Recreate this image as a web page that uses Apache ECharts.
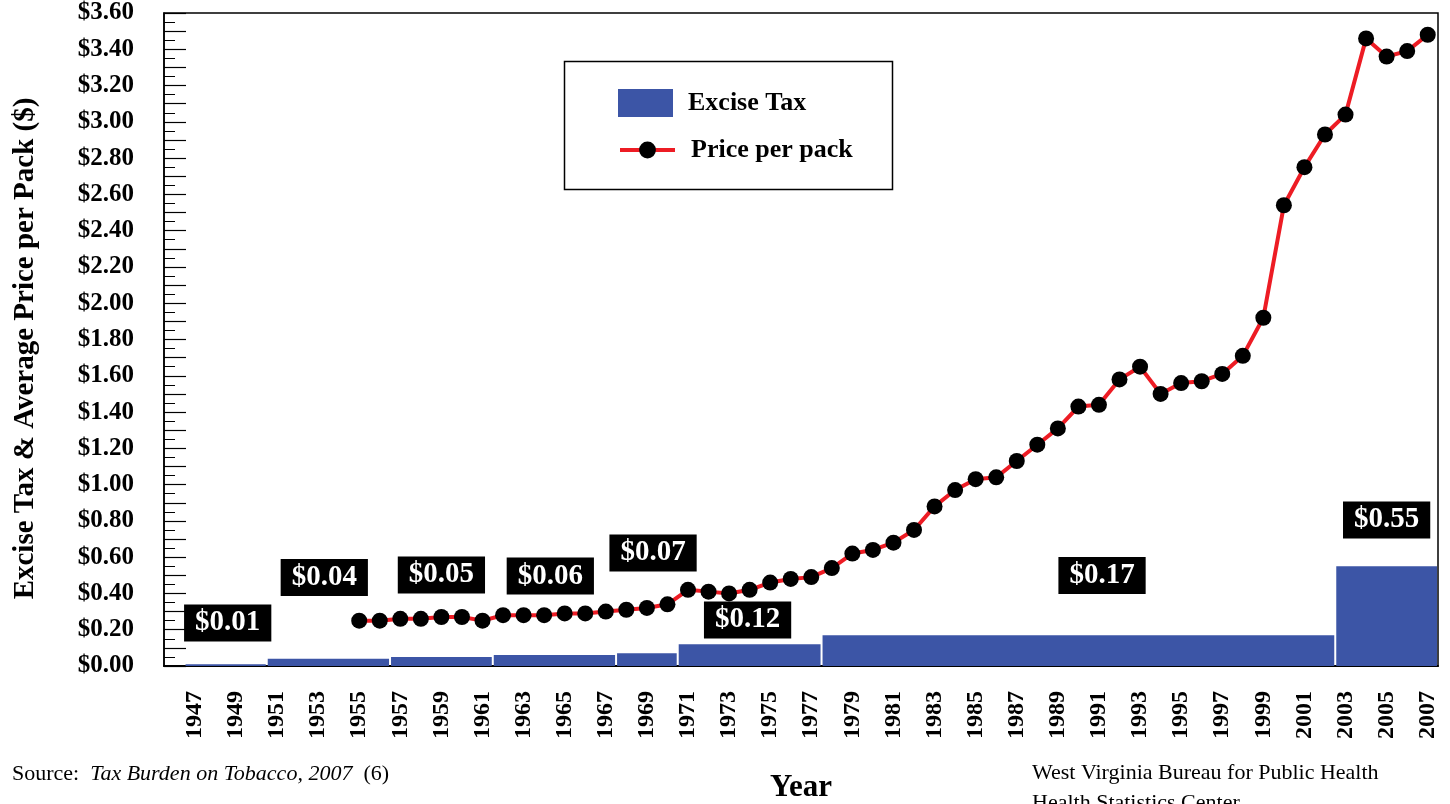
<!DOCTYPE html>
<html>
<head>
<meta charset="utf-8">
<script src="https://cdn.jsdelivr.net/npm/echarts@6/dist/echarts.min.js"></script>
<style>
  html, body { margin: 0; padding: 0; background: #fff; }
  #chart { width: 1450px; height: 804px; }
</style>
</head>
<body>
<div id="chart"></div>
<script>
// Federal excise tax per pack and the years each rate was in force
const taxFrom = [1947, 1951, 1957, 1962, 1968, 1971, 1978, 2003];
const taxTo   = [1950, 1956, 1961, 1967, 1970, 1977, 2002, 2007];
const taxRate = [0.01, 0.04, 0.05, 0.06, 0.07, 0.12, 0.17, 0.55];

// Average retail price per pack ($)
const priceYears = [
  1955, 1956, 1957, 1958, 1959, 1960, 1961, 1962, 1963, 1964,
  1965, 1966, 1967, 1968, 1969, 1970, 1971, 1972, 1973, 1974,
  1975, 1976, 1977, 1978, 1979, 1980, 1981, 1982, 1983, 1984,
  1985, 1986, 1987, 1988, 1989, 1990, 1991, 1992, 1993, 1994,
  1995, 1996, 1997, 1998, 1999, 2000, 2001, 2002, 2003, 2004,
  2005, 2006, 2007
];
const pricePerPack = [
  0.25, 0.25, 0.26, 0.26, 0.27, 0.27, 0.25, 0.28, 0.28, 0.28,
  0.29, 0.29, 0.30, 0.31, 0.32, 0.34, 0.42, 0.41, 0.40, 0.42,
  0.46, 0.48, 0.49, 0.54, 0.62, 0.64, 0.68, 0.75, 0.88, 0.97,
  1.03, 1.04, 1.13, 1.22, 1.31, 1.43, 1.44, 1.58, 1.65, 1.50,
  1.56, 1.57, 1.61, 1.71, 1.92, 2.54, 2.75, 2.93, 3.04, 3.46,
  3.36, 3.39, 3.48
];

// Year labels along the x axis
const yearTicks = [
  1947, 1949, 1951, 1953, 1955, 1957, 1959, 1961, 1963, 1965,
  1967, 1969, 1971, 1973, 1975, 1977, 1979, 1981, 1983, 1985,
  1987, 1989, 1991, 1993, 1995, 1997, 1999, 2001, 2003, 2005, 2007
];

// Where each tax-rate tag sits, in axis units [year, dollars]
const tagSpots = [
  [1948.6, 0.237], [1953.3, 0.488], [1959.0, 0.502], [1964.3, 0.496],
  [1969.3, 0.623], [1973.9, 0.254], [1991.15, 0.499], [2005.0, 0.805]
];

const SERIF = '"Liberation Serif", "Times New Roman", serif';
const BAR_BLUE = '#3c55a6';
const LINE_RED = '#ed1c24';

const chart = echarts.init(document.getElementById('chart'), null, { renderer: 'canvas' });

const taxData = taxRate.map((v, i) => [taxFrom[i], taxTo[i], v]);
const priceData = pricePerPack.map((v, i) => [priceYears[i], v]);

function renderTaxBlock(params, api) {
  const from = api.value(0);
  const to = api.value(1);
  const rate = api.value(2);
  const topLeft = api.coord([from - 0.5, rate]);
  const bottomRight = api.coord([to + 0.5, 0]);
  const spot = tagSpots[params.dataIndex];
  const tagPos = api.coord(spot);
  return {
    type: 'group',
    children: [
      {
        type: 'rect',
        shape: {
          x: topLeft[0] + 1,
          y: topLeft[1],
          width: bottomRight[0] - topLeft[0] - 2,
          height: bottomRight[1] - topLeft[1]
        },
        style: { fill: BAR_BLUE }
      },
      {
        type: 'text',
        x: tagPos[0],
        y: tagPos[1],
        z2: 10,
        style: {
          text: '$' + rate.toFixed(2),
          fill: '#fff',
          font: 'bold 29px ' + SERIF,
          align: 'center',
          verticalAlign: 'middle',
          backgroundColor: '#000',
          padding: [4, 11, 4, 11],
          lineHeight: 29
        }
      }
    ]
  };
}

const option = {
  animation: false,
  backgroundColor: '#fff',
  textStyle: { fontFamily: SERIF },
  grid: {
    left: 164, right: 12, top: 13, bottom: 138,
    show: true, borderColor: '#000', borderWidth: 1.5,
    containLabel: false,
    outerBoundsMode: 'none'
  },
  xAxis: {
    type: 'value',
    min: 1945.5,
    max: 2007.5,
    name: 'Year',
    nameLocation: 'middle',
    nameGap: 106,
    nameTextStyle: { fontFamily: SERIF, fontWeight: 'bold', fontSize: 31, color: '#000' },
    axisLine: { show: true, lineStyle: { color: '#000', width: 2 } },
    axisTick: { show: false },
    splitLine: { show: false },
    axisLabel: {
      customValues: yearTicks,
      rotate: 90,
      margin: 25,
      fontFamily: SERIF,
      fontWeight: 'bold',
      fontSize: 24,
      color: '#000',
      formatter: v => String(v)
    }
  },
  yAxis: {
    type: 'value',
    min: 0,
    max: 3.6,
    interval: 0.1,
    name: 'Excise Tax & Average Price per Pack ($)',
    nameLocation: 'middle',
    nameGap: 124,
    nameTextStyle: {
      fontFamily: SERIF, fontWeight: 'bold', fontSize: 29, color: '#000',
      padding: [0, 18, 0, 0]
    },
    axisLine: { show: true, lineStyle: { color: '#000', width: 1.5 } },
    axisTick: { show: true, inside: true, length: 22, lineStyle: { color: '#000', width: 1.2 } },
    minorTick: { show: true, splitNumber: 2, length: 11, lineStyle: { color: '#000', width: 1 } },
    splitLine: { show: false },
    axisLabel: {
      margin: 30,
      fontFamily: SERIF,
      fontWeight: 'bold',
      fontSize: 25,
      color: '#000',
      formatter: v => (Math.round(v * 10) % 2 === 0 ? '$' + v.toFixed(2) : '')
    }
  },
  legend: [
    {
      data: [{ name: 'Excise Tax', icon: 'rect' }],
      left: 618, top: 89, padding: 0, z: 10,
      itemWidth: 55, itemHeight: 28,
      selectedMode: false,
      textStyle: { fontFamily: SERIF, fontWeight: 'bold', fontSize: 26, color: '#000', padding: [0, 0, 0, 10] }
    },
    {
      data: ['Price per pack'],
      left: 618, top: 137, padding: 0, z: 10,
      itemWidth: 55, itemHeight: 21,
      selectedMode: false,
      lineStyle: { color: LINE_RED, width: 4 },
      textStyle: { fontFamily: SERIF, fontWeight: 'bold', fontSize: 26, color: '#000', padding: [0, 0, 0, 11] }
    }
  ],
  graphic: [
    {
      type: 'rect', z: 3,
      shape: { x: 564.5, y: 61.5, width: 328, height: 128 },
      style: { fill: '#fff', stroke: '#000', lineWidth: 1.5 }
    },
    {
      type: 'text', left: 12, top: 763,
      style: {
        text: '{n|Source:  }{i|Tax Burden on Tobacco, 2007}{n|  (6)}',
        rich: {
          n: { fontFamily: SERIF, fontSize: 22, fill: '#000' },
          i: { fontFamily: SERIF, fontSize: 22, fontStyle: 'italic', fill: '#000' }
        }
      }
    },
    {
      type: 'text', left: 1032, top: 758,
      style: {
        text: 'West Virginia Bureau for Public Health\nHealth Statistics Center',
        font: '22px ' + SERIF,
        lineHeight: 30,
        fill: '#000'
      }
    }
  ],
  series: [
    {
      name: 'Excise Tax',
      type: 'custom',
      renderItem: renderTaxBlock,
      itemStyle: { color: BAR_BLUE },
      encode: { x: [0, 1], y: 2 },
      data: taxData,
      z: 2
    },
    {
      name: 'Price per pack',
      type: 'line',
      data: priceData,
      symbol: 'circle',
      symbolSize: 16,
      itemStyle: { color: '#000' },
      lineStyle: { color: LINE_RED, width: 4 },
      z: 5
    }
  ]
};

chart.setOption(option);
</script>
</body>
</html>
